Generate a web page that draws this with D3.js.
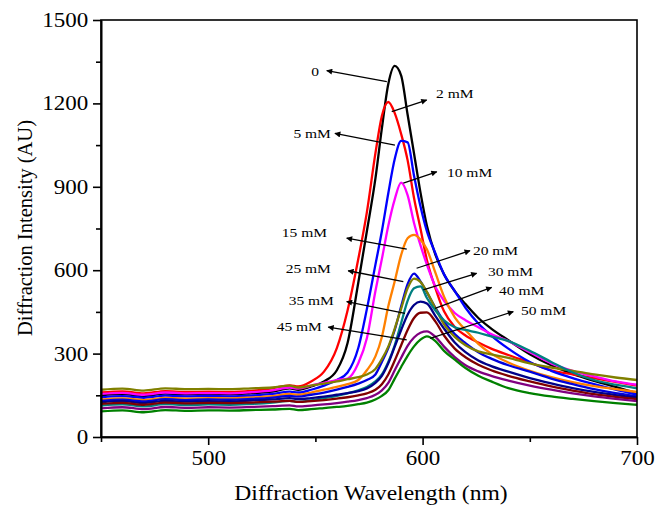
<!DOCTYPE html>
<html>
<head>
<meta charset="utf-8">
<script src="https://cdn.jsdelivr.net/npm/d3@7"></script>
<style>
  body { margin: 0; background: #fff; }
  text { font-family: "Liberation Serif", "Times New Roman", serif; fill: #000; }
</style>
</head>
<body>
<svg id="chart" width="656" height="507"></svg>
<script>
// Wavelength grid (nm) shared by every spectrum
const wavelengths = [450,460,470,480,490,500,510,520,530,538,542,548,554,560,565,570,574,578,581,584,587,590,593,596,599,602,606,610,615,620,626,632,640,650,660,670,680,690,700];

// Diffraction intensity (AU) for each concentration
const int0  = [150,154,148,156,153,155,153,157,163,175,170,182,200,240,338,555,740,930,1110,1270,1335,1300,1160,1020,880,760,655,585,525,478,428,390,348,298,258,227,202,180,158];
const int2  = [160,164,157,165,162,163,162,166,175,186,182,200,235,320,455,640,808,1021,1155,1205,1165,1090,996,860,750,637,535,452,396,365,340,318,295,268,240,225,212,198,185];
const int5  = [143,147,141,149,146,148,146,149,155,163,160,170,185,205,232,320,460,620,740,877,1000,1065,1060,940,830,740,660,585,525,465,408,365,318,270,238,212,190,170,152];
const int10 = [155,159,152,160,157,158,157,161,168,178,174,185,195,205,210,265,355,525,640,760,855,915,870,770,690,620,540,490,446,420,395,370,345,305,265,238,218,200,188];
const int15 = [135,139,133,141,138,140,139,142,147,155,152,160,170,180,190,205,240,290,360,470,560,655,715,727,710,675,590,505,430,385,335,300,268,238,215,197,183,172,162];
const int20 = [130,134,128,136,133,135,134,137,142,148,145,152,160,170,180,192,205,225,270,320,385,470,550,588,560,520,465,415,370,338,305,282,258,235,210,190,172,158,147];
const int25 = [170,174,167,175,172,173,172,175,178,185,178,185,192,200,208,215,225,245,280,325,390,462,535,570,558,522,462,405,360,330,308,297,285,265,250,238,225,214,205];
const int30 = [113,117,110,118,115,117,116,119,124,130,126,132,140,148,157,168,180,200,225,270,330,410,490,535,542,500,455,420,395,385,375,362,345,310,270,232,205,188,175];
const int35 = [125,129,122,130,127,129,128,131,135,140,136,140,145,152,158,165,175,195,220,265,325,385,440,475,487,480,435,390,340,305,275,255,235,212,193,176,162,151,142];
const int40 = [119,123,116,124,121,123,122,124,127,130,126,129,133,138,143,150,157,170,190,225,275,330,385,428,447,448,415,365,318,287,260,240,220,200,182,167,154,144,136];
const int45 = [103,107,100,108,105,107,106,108,111,114,110,113,117,122,127,133,140,152,168,195,240,285,328,358,375,380,360,325,287,258,236,220,203,185,170,157,146,137,129];
const int50 = [92,96,89,97,94,96,95,97,99,101,97,100,104,108,112,118,124,135,148,168,210,252,292,326,350,362,345,310,278,248,220,200,176,158,146,137,129,122,116];

const seriesNames = ["0","2 mM","5 mM","10 mM","15 mM","20 mM","25 mM","30 mM","35 mM","40 mM","45 mM","50 mM"];
const seriesValues = [int0,int2,int5,int10,int15,int20,int25,int30,int35,int40,int45,int50];

// Axis ticks
const xMajorTicks = [500,600,700];
const xMinorTicks = [450,550,650];
const yMajorTicks = [0,300,600,900,1200,1500];
const yMinorTicks = [150,450,750,1050,1350];

// Curve labels, with the text anchor and the arrow from the curve to the label (data units)
const labelText   = ["0","2 mM","5 mM","10 mM","15 mM","20 mM","25 mM","30 mM","35 mM","40 mM","45 mM","50 mM"];
const labelAtWl   = [552.1,605.8,557.7,610.9,555.9,623.0,557.7,630.0,559.1,635.2,553.5,645.4];
const labelAtInt  = [1314,1236,1092,954,738,670,608,595,493,529,397,457];
const arrowHeadWl = [555.3,601.9,559.1,606.6,564.6,622.1,565.3,625.2,564.6,632.2,556.0,642.3];
const arrowHeadIn = [1318,1212,1092,954,715,670,598,589,487,538,395,451];
const arrowTailWl = [583.3,585.6,587.1,591.0,592.6,597.2,591.0,600.3,591.8,605.8,592.6,603.5];
const arrowTailIn = [1278,1170,1050,913,676,607,559,529,445,463,349,355];

// Presentation
const colors = ["#000000","#ff0000","#0000ff","#ff00ff","#ff8000","#0000dd","#808000","#008080","#000088","#800000","#800080","#008000"];
const widen = 1.15;   // glyphs are drawn slightly wide
const plot = { left: 101, right: 637, top: 20, bottom: 437 };

const svg = d3.select("#chart");
const x = d3.scaleLinear().domain([450, 700]).range([plot.left, plot.right]);
const y = d3.scaleLinear().domain([0, 1500]).range([plot.bottom, plot.top]);

// Spectra
const line = d3.line()
  .x((d, i) => x(wavelengths[i]))
  .y(d => y(d))
  .curve(d3.curveMonotoneX);

svg.append("g").attr("class", "spectra")
  .selectAll("path")
  .data(seriesValues)
  .join("path")
  .attr("d", d => line(d))
  .attr("fill", "none")
  .attr("stroke", (d, i) => colors[i])
  .attr("stroke-width", 2.3)
  .attr("stroke-linejoin", "round");

// Frame
svg.append("rect")
  .attr("x", plot.left).attr("y", plot.top)
  .attr("width", plot.right - plot.left).attr("height", plot.bottom - plot.top)
  .attr("fill", "none").attr("stroke", "#000").attr("stroke-width", 1.6);

// Axes
const fmt = d3.format("d");
svg.append("g").attr("class", "xmajor").attr("transform", `translate(0,${plot.bottom})`)
  .call(d3.axisBottom(x).tickValues(xMajorTicks).tickFormat(fmt).tickSize(8).tickPadding(6).tickSizeOuter(0));
svg.append("g").attr("transform", `translate(0,${plot.bottom})`)
  .call(d3.axisBottom(x).tickValues(xMinorTicks).tickSize(5).tickFormat("").tickSizeOuter(0));
svg.append("g").attr("class", "ymajor").attr("transform", `translate(${plot.left},0)`)
  .call(d3.axisLeft(y).tickValues(yMajorTicks).tickFormat(fmt).tickSize(8).tickPadding(3).tickSizeOuter(0));
svg.append("g").attr("transform", `translate(${plot.left},0)`)
  .call(d3.axisLeft(y).tickValues(yMinorTicks).tickSize(5).tickFormat("").tickSizeOuter(0));

svg.selectAll(".domain").attr("stroke", "#000").attr("stroke-width", 1.6);
svg.selectAll(".tick line").attr("stroke", "#000").attr("stroke-width", 1.6);
svg.selectAll(".tick text")
  .style("font-family", '"Liberation Serif", "Times New Roman", serif')
  .style("font-size", "20px").attr("fill", "#000")
  .attr("transform", `scale(${widen},1)`);

// Axis titles
svg.append("text")
  .attr("transform", `translate(${(plot.left + plot.right) / 2 + 2},500) scale(${widen},1)`)
  .attr("text-anchor", "middle")
  .style("font-size", "20.5px")
  .text("Diffraction Wavelength (nm)");

svg.append("text")
  .attr("transform", `translate(32,228) rotate(-90)`)
  .attr("text-anchor", "middle")
  .style("font-size", "20.5px")
  .text("Diffraction Intensity (AU)");

// Arrow marker
svg.append("defs").append("marker")
  .attr("id", "arrowhead")
  .attr("viewBox", "0 0 10 10")
  .attr("refX", 9).attr("refY", 5)
  .attr("markerWidth", 9).attr("markerHeight", 6)
  .attr("markerUnits", "userSpaceOnUse")
  .attr("orient", "auto")
  .append("path").attr("d", "M0,0 L10,5 L0,10 Z").attr("fill", "#000");

// Curve annotations
const ann = svg.append("g").attr("class", "annotations");
labelText.forEach((t, i) => {
  ann.append("line")
    .attr("x1", x(arrowTailWl[i])).attr("y1", y(arrowTailIn[i]))
    .attr("x2", x(arrowHeadWl[i])).attr("y2", y(arrowHeadIn[i]))
    .attr("stroke", "#000").attr("stroke-width", 1.3)
    .attr("marker-end", "url(#arrowhead)");
  const rightSide = labelAtWl[i] > arrowTailWl[i];
  ann.append("text")
    .attr("transform", `translate(${x(labelAtWl[i]) + (rightSide ? 1 : -1)},${y(labelAtInt[i])}) scale(${widen},1)`)
    .attr("dy", "0.35em")
    .attr("text-anchor", rightSide ? "start" : "end")
    .style("font-size", "13.5px")
    .text(t);
});
</script>
</body>
</html>
